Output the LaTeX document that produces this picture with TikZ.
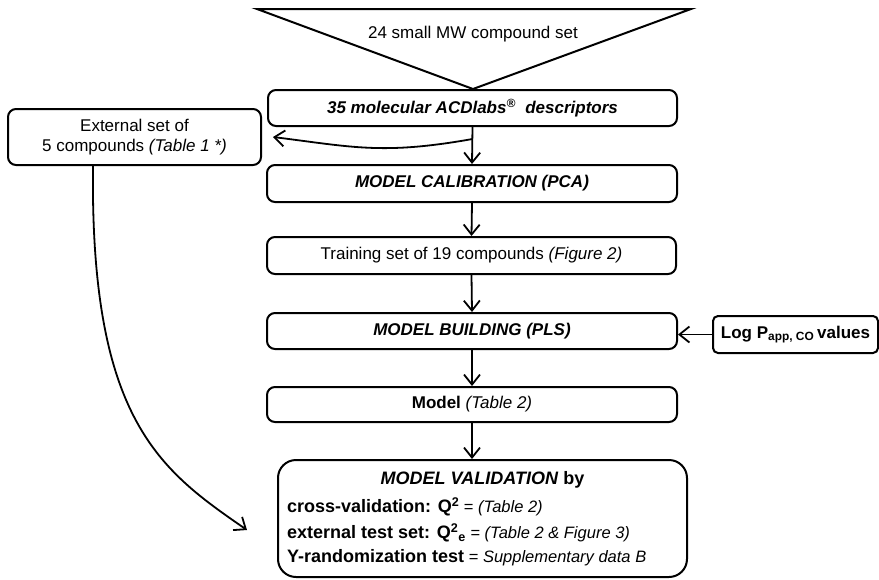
\documentclass[tikz,border=0pt]{standalone}
\usepackage{fontspec}
\setmainfont{Liberation Sans}
\usetikzlibrary{arrows.meta}
\newcommand{\bigf}{\fontsize{18}{21}\selectfont}
\newcommand{\smf}{\fontsize{16.5}{20}\selectfont}
\begin{document}
\begin{tikzpicture}[x=1pt,y=-1pt,
  every node/.style={font=\fontsize{17}{20}\selectfont},
  box/.style={draw, line width=2pt, rounded corners=8pt, inner sep=0pt, align=center},
  arr/.style={line width=1.8pt, -{Straight Barb[length=10pt,width=16pt,line width=1.8pt]}},
  txt/.style={inner sep=0pt, anchor=west}]
\useasboundingbox (0,0) rectangle (879,579);

% top triangle
\draw[line width=2pt, line join=miter] (257,9) -- (691,9) -- (473,89) -- cycle;
\node[inner sep=0pt] (title) at (473,34) {24 small MW compound set};

% boxes
\node[box, minimum width=409pt, minimum height=36pt] (box1) at (472.5,108)
  {\bfseries\itshape 35 molecular ACDlabs\textsuperscript{\textregistered}\ \ descriptors};
\node[box, minimum width=410pt, minimum height=37pt] (calib) at (472,183.5)
  {\bfseries\itshape MODEL CALIBRATION (PCA)};
\node[box, minimum width=409pt, minimum height=37pt] (train) at (471.5,255.5)
  {Training set of 19 compounds \textit{(Figure 2)}};
\node[box, minimum width=410pt, minimum height=36pt] (build) at (472,331)
  {\bfseries\itshape MODEL BUILDING (PLS)};
\node[box, minimum width=410pt, minimum height=35pt] (model) at (472,404.5)
  {\raisebox{-2pt}{\textbf{Model} \textit{(Table 2)}}};
\node[box, rounded corners=18pt, minimum width=409pt, minimum height=117pt] (valid) at (482.5,518.5) {};
\node[box, minimum width=253pt, minimum height=56pt] (ext) at (134.5,137)
  {External set of\\[0pt]5 compounds \textit{(Table 1 *)}};
\node[box, rounded corners=5pt, minimum width=165pt, minimum height=37pt] (logp) at (795.5,334.5)
  {\textbf{Log P\textsubscript{app, CO}\,values}};

% validation text
\node[inner sep=0pt] (v0) at (482.5,480) {\bigf\textbf{\textit{MODEL VALIDATION} by}};
\node[txt] (v1) at (287,507) {\bigf\textbf{cross-validation: Q\textsuperscript{2}}\smf{} = \textit{(Table 2)}};
\node[txt] (v2) at (287,533) {\bigf\textbf{external test set: Q\textsuperscript{2}\textsubscript{e}}\smf{} = \textit{(Table 2 \& Figure 3)}};
\node[txt] (v3) at (287,558) {\bigf\textbf{Y-randomization test}\smf{} = \textit{Supplementary data B}};

% connectors
\draw[arr] (box1.south) -- (calib.north);
\draw[arr] (calib.south) -- (train.north);
\draw[arr] (train.south) -- (build.north);
\draw[arr] (build.south) -- (model.north);
\draw[arr] (model.south) -- (model.south |- valid.north);
\draw[arr] (logp.west) -- (logp.west -| build.east);
\coordinate (split) at ([yshift=-12pt]box1.south);
\coordinate (extin) at ([xshift=11pt]ext.east);
\draw[arr] (split) .. controls +(-90,16) and +(80,10) .. (extin);
\coordinate (validin) at (247,530);
\draw[arr] ([xshift=-41.5pt]ext.south) .. controls (90,420) and (160,470) .. (validin);
\end{tikzpicture}
\end{document}
